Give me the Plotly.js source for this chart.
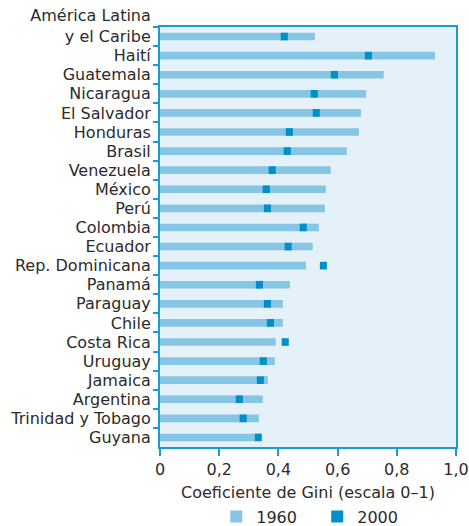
<!DOCTYPE html>
<html>
<head>
<meta charset="utf-8">
<script src="https://cdn.plot.ly/plotly-3.0.1.min.js"></script>
<style>html,body{margin:0;padding:0;background:#fff;}#chart{width:469px;height:526px;}</style>
</head>
<body>
<div id="chart"></div>
<script>
const countries = ["América Latina<br>y el Caribe<br> ", "Haití", "Guatemala", "Nicaragua", "El Salvador", "Honduras", "Brasil", "Venezuela", "México", "Perú", "Colombia", "Ecuador", "Rep. Dominicana", "Panamá", "Paraguay", "Chile", "Costa Rica", "Uruguay", "Jamaica", "Argentina", "Trinidad y Tobago", "Guyana"];
const gini1960 = [0.523, 0.929, 0.756, 0.696, 0.679, 0.672, 0.631, 0.577, 0.560, 0.557, 0.537, 0.516, 0.493, 0.439, 0.415, 0.415, 0.391, 0.388, 0.364, 0.347, 0.334, 0.320];
const gini2000 = [0.420, 0.704, 0.589, 0.521, 0.528, 0.437, 0.430, 0.379, 0.359, 0.363, 0.484, 0.433, 0.552, 0.336, 0.363, 0.373, 0.423, 0.349, 0.339, 0.268, 0.281, 0.332];
const seriesNames = ["1960", "2000"];
const xTickVals = [0, 0.2, 0.4, 0.6, 0.8, 1.0];
const xTickText = ["0", "0,2", "0,4", "0,6", "0,8", "1,0"];

const markW = 0.024;
const lightBlue = "#86c6e4";
const darkBlue = "#008fc6";
const axisBlue = "#1a9ad6";
const textCol = "#2b2b2b";

const traces = [
  {
    type: "bar", orientation: "h", name: seriesNames[0],
    y: countries, x: gini1960, width: 0.4,
    marker: {color: lightBlue, line: {width: 0}},
    hoverinfo: "x+y"
  },
  {
    type: "bar", orientation: "h", name: seriesNames[1],
    y: countries, x: gini2000.map(() => markW), base: gini2000.map(v => v - markW / 2), width: 0.4,
    marker: {color: darkBlue, line: {width: 0}},
    hoverinfo: "y"
  }
];

const layout = {
  width: 469, height: 526,
  margin: {l: 160, r: 13, t: 27, b: 79, autoexpand: false},
  paper_bgcolor: "#ffffff",
  plot_bgcolor: "#e5f1f8",
  barmode: "overlay",
  font: {family: "DejaVu Sans, sans-serif", size: 16, color: textCol},
  showlegend: true,
  legend: {
    orientation: "h", x: 0.19, xanchor: "left", y: -0.125, yanchor: "top",
    font: {size: 16, color: textCol}, traceorder: "normal",
    entrywidth: 56, entrywidthmode: "pixels"
  },
  xaxis: {
    range: [0, 1], tickvals: xTickVals, ticktext: xTickText,
    showgrid: false, zeroline: false,
    showline: true, linecolor: axisBlue, linewidth: 2, mirror: true,
    ticks: "outside", ticklen: 7, tickwidth: 2, tickcolor: axisBlue,
    title: {text: "Coeficiente de Gini (escala 0–1)", standoff: 9, font: {size: 16, color: textCol}}
  },
  yaxis: {
    type: "category", categoryorder: "array", categoryarray: countries,
    range: [countries.length - 0.5, -0.5],
    tickmode: "linear", dtick: 1, tick0: 0,
    showgrid: false, zeroline: false,
    showline: true, linecolor: axisBlue, linewidth: 2, mirror: true,
    ticks: "outside", ticklen: 5, tickwidth: 2, tickcolor: axisBlue, tickson: "boundaries",
    ticklabelstandoff: 4
  }
};

Plotly.newPlot("chart", traces, layout, {displayModeBar: false, staticPlot: true});
</script>
</body>
</html>
